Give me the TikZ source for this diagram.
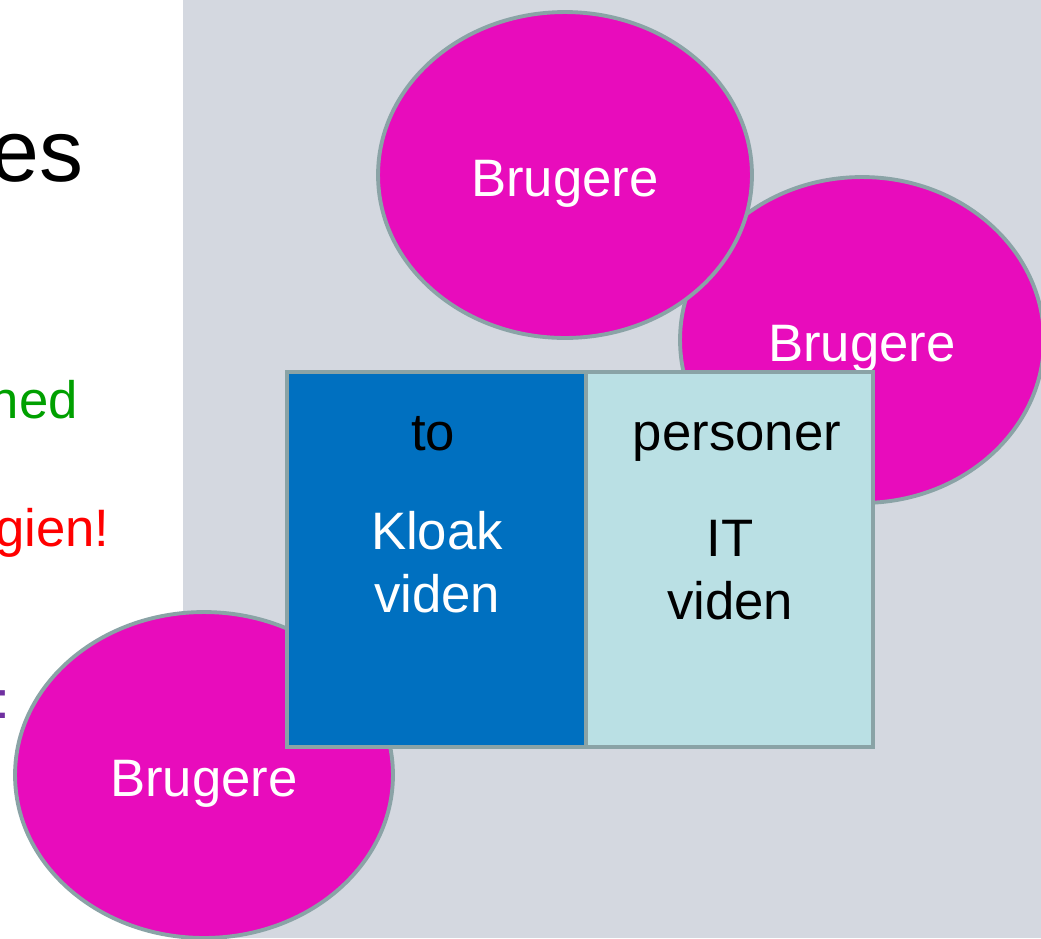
\documentclass[tikz,border=0pt]{standalone}
\usepackage{fontspec}
\setmainfont{Liberation Sans}
\usetikzlibrary{positioning, shapes.geometric}

\definecolor{slidegray}{RGB}{212,216,224}
\definecolor{rimgray}{RGB}{138,163,166}
\definecolor{userpink}{RGB}{232,12,188}
\definecolor{kloakblue}{RGB}{0,112,192}
\definecolor{itcyan}{RGB}{186,224,228}
\definecolor{okgreen}{RGB}{0,160,0}
\definecolor{notepurple}{RGB}{112,48,160}

\begin{document}
\begin{tikzpicture}[x=0.02cm, y=-0.02cm, node distance=0pt]
    \tikzstyle{user} = [ellipse,draw=rimgray,line width=2.2pt,fill=userpink,text=white,inner sep=0pt,text height=25pt,text depth=0pt,font=\fontsize{30}{36}\selectfont]
    \tikzstyle{cell} = [rectangle,draw=rimgray,line width=2.2pt,outer sep=0pt,minimum height=7.5cm]
    \tikzstyle{word} = [inner sep=0pt,anchor=base,font=\fontsize{30}{36}\selectfont]

    \useasboundingbox (0,0) rectangle (1041,938);
    \fill[white] (0,0) rectangle (1041,938);
    \fill[slidegray] (183,0) rectangle (1041,938);

    % bullet text peeking out on the left
    \node (es) [inner sep=0pt,anchor=base east,font=\fontsize{50}{60}\selectfont] at (84,181) {es};
    \node (ned) [word,anchor=base east,text=okgreen] at (78,418) {ned};
    \node (gien) [word,anchor=base east,text=red] at (110,546) {gien!};
    \node (colon) [word,anchor=base east,text=notepurple] at (10,718) {:};

    % the users
    \node (u3) [user,minimum width=7.56cm,minimum height=6.52cm] at (204,775) {Brugere};
    \node (u2) [user,minimum width=7.28cm,minimum height=6.52cm] at (862,340) {Brugere};
    \node (u1) [user,minimum width=7.48cm,minimum height=6.52cm] at (565,175) {Brugere};

    % the two persons
    \node (kloak) [cell,fill=kloakblue,minimum width=5.98cm,anchor=north west] at (287,372) {};
    \node (it) [cell,fill=itcyan,minimum width=5.74cm,right=of kloak] {};

    \node (to) [word] at (433,450) {to};
    \node (kloak1) [word,text=white] at (437,549) {Kloak};
    \node (kloak2) [word,text=white] at (437,612) {viden};
    \node (pers) [word] at (737,450) {personer};
    \node (it1) [word] at (730,556) {IT};
    \node (it2) [word] at (730,619) {viden};

\end{tikzpicture}
\end{document}
